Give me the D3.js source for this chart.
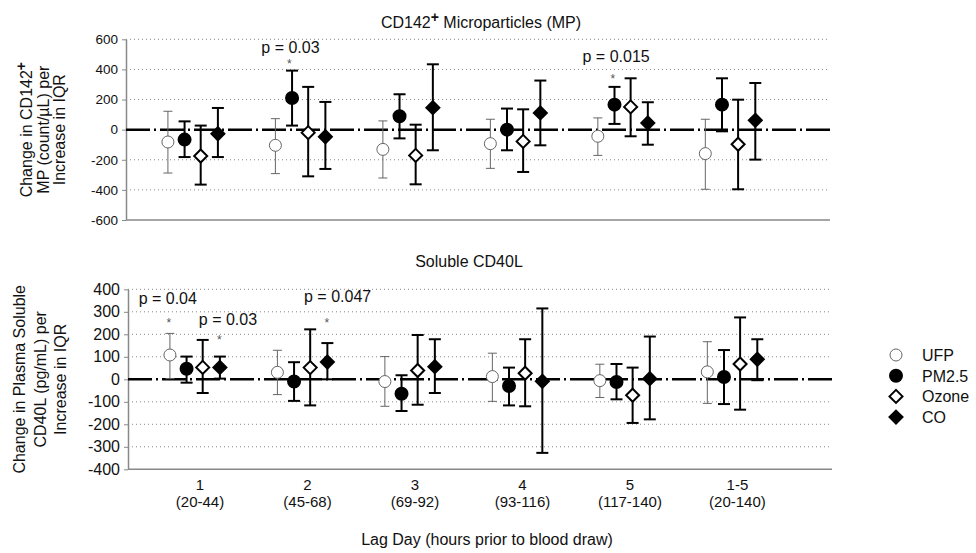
<!DOCTYPE html>
<html>
<head>
<meta charset="utf-8">
<script src="https://cdn.jsdelivr.net/npm/d3@7"></script>
<style>
  body { margin: 0; background: #fff; }
  text { font-family: "Liberation Sans", Arial, sans-serif; }
</style>
</head>
<body>
<script>
// categories
const lagDays = ['1', '2', '3', '4', '5', '1-5'];
const lagHours = ['(20-44)', '(45-68)', '(69-92)', '(93-116)', '(117-140)', '(20-140)'];
const pollutants = ['UFP', 'PM2.5', 'Ozone', 'CO'];

// CD142+ microparticles: [estimate, lower 95% CI, upper 95% CI] per lag
const mpUFP   = [[-82, -288, 122], [-104, -292, 73], [-131, -321, 58], [-93, -257, 69], [-44, -171, 78], [-159, -396, 69]];
const mpPM    = [[-66, -182, 55], [210, 27, 392], [89, -58, 235], [0, -137, 140], [166, 38, 284], [166, -11, 341]];
const mpOzone = [[-175, -365, 27], [-20, -310, 284], [-171, -363, 33], [-78, -281, 135], [151, -44, 341], [-97, -396, 199]];
const mpCO    = [[-27, -182, 144], [-47, -261, 184], [146, -137, 434], [111, -104, 326], [44, -100, 182], [62, -199, 310]];
const mpTicks = [-600, -400, -200, 0, 200, 400, 600];

// soluble CD40L
const cdUFP   = [[108, 3, 204], [31, -68, 129], [-10, -120, 101], [12, -98, 116], [-6, -81, 67], [33, -107, 167]];
const cdPM    = [[47, -15, 101], [-10, -96, 76], [-64, -141, 18], [-30, -116, 52], [-12, -89, 68], [10, -110, 130]];
const cdOzone = [[53, -61, 175], [52, -116, 222], [39, -113, 197], [27, -120, 178], [-71, -194, 52], [68, -135, 275]];
const cdCO    = [[53, 3, 101], [77, 0, 161], [56, -61, 178], [-9, -327, 315], [3, -178, 190], [89, -4, 178]];
const cdTicks = [-400, -300, -200, -100, 0, 100, 200, 300, 400];

// significance notes: lag number, shift in lag units, value where the text sits
const mpNotes = [
  { text: 'p = 0.03', lag: 2, shift: -0.14, value: 509 },
  { text: '*', lag: 2, shift: -0.15, value: 409 },
  { text: 'p = 0.015', lag: 5, shift: -0.11, value: 450 },
  { text: '*', lag: 5, shift: -0.14, value: 310 }
];
const cdNotes = [
  { text: 'p = 0.04', lag: 1, shift: -0.30, value: 335 },
  { text: '*', lag: 1, shift: -0.29, value: 232 },
  { text: 'p = 0.03', lag: 1, shift: 0.26, value: 241 },
  { text: '*', lag: 1, shift: 0.18, value: 157 },
  { text: 'p = 0.047', lag: 2, shift: 0.28, value: 344 },
  { text: '*', lag: 2, shift: 0.18, value: 232 }
];

const W = 976, H = 553;
const dodge = [-0.28, -0.125, 0.025, 0.185];
const styles = [
  { shape: 'circle', fill: '#fff', stroke: '#666', sw: 1, cap: 4.5 },
  { shape: 'circle', fill: '#000', stroke: '#000', sw: 2, cap: 6 },
  { shape: 'diamond', fill: '#fff', stroke: '#000', sw: 2, cap: 6 },
  { shape: 'diamond', fill: '#000', stroke: '#000', sw: 2, cap: 6 }
];
const diamond = r => `M0,${-r}L${r},0L0,${r}L${-r},0Z`;

const svg = d3.select('body').append('svg')
  .attr('width', W).attr('height', H)
  .style('display', 'block');

function drawPanel (p) {
  const g = svg.append('g');
  const x = d3.scaleLinear().domain([0.33, 6.88]).range([p.left, p.right]);
  const y = d3.scaleLinear().domain(d3.extent(p.ticks)).range([p.bottom, p.top]);

  // dotted grid
  g.selectAll('line.grid')
    .data(p.ticks.filter(t => t !== 0 && t !== p.ticks[0]))
    .join('line')
    .attr('x1', p.left).attr('x2', p.right)
    .attr('y1', d => y(d)).attr('y2', d => y(d))
    .attr('stroke', '#888').attr('stroke-dasharray', '1,3');

  g.append('line')
    .attr('x1', p.left).attr('x2', p.right)
    .attr('y1', p.bottom).attr('y2', p.bottom)
    .attr('stroke', '#888').attr('stroke-width', 1.5);

  g.append('g')
    .attr('transform', `translate(${p.left},0)`)
    .call(d3.axisLeft(y).tickValues(p.ticks).tickSize(4).tickSizeOuter(0).tickPadding(4).tickFormat(d => String(d)))
    .call(a => {
      a.select('.domain').attr('stroke', '#888').attr('stroke-width', 1.5);
      a.selectAll('.tick line').attr('stroke', '#888');
      a.selectAll('.tick text').style('fill', '#111')
        .style('font-size', p.tickFont + 'px')
        .style('font-family', '"Liberation Sans", Arial, sans-serif');
    });

  // zero reference line
  g.append('line')
    .attr('x1', p.left).attr('x2', p.right)
    .attr('y1', y(0)).attr('y2', y(0))
    .attr('stroke', '#000').attr('stroke-width', 2.5)
    .attr('stroke-dasharray', '24,4,2,4');

  p.series.forEach((rows, si) => {
    const s = styles[si];
    const sg = g.append('g');
    const cx = (d, i) => x(i + 1 + dodge[si]);
    sg.selectAll('line.bar').data(rows).join('line')
      .attr('x1', cx).attr('x2', cx)
      .attr('y1', d => y(d[1])).attr('y2', d => y(d[2]))
      .attr('stroke', s.stroke).attr('stroke-width', s.sw);
    [1, 2].forEach(k => {
      sg.selectAll('line.cap' + k).data(rows).join('line')
        .attr('x1', (d, i) => cx(d, i) - s.cap).attr('x2', (d, i) => cx(d, i) + s.cap)
        .attr('y1', d => y(d[k])).attr('y2', d => y(d[k]))
        .attr('stroke', s.stroke).attr('stroke-width', s.sw);
    });
    if (s.shape === 'circle') {
      sg.selectAll('circle').data(rows).join('circle')
        .attr('cx', cx).attr('cy', d => y(d[0])).attr('r', 6)
        .attr('fill', s.fill).attr('stroke', s.stroke).attr('stroke-width', s.sw);
    } else {
      sg.selectAll('path').data(rows).join('path')
        .attr('transform', (d, i) => `translate(${cx(d, i)},${y(d[0])})`)
        .attr('d', diamond(6.5))
        .attr('fill', s.fill).attr('stroke', s.stroke).attr('stroke-width', s.sw);
    }
  });

  g.selectAll('text.note').data(p.notes).join('text')
    .attr('x', d => x(d.lag + d.shift))
    .attr('y', d => y(d.value))
    .attr('text-anchor', 'middle')
    .style('font-size', d => d.text === '*' ? '12px' : '16px')
    .style('fill', d => d.text === '*' ? '#555' : '#111')
    .text(d => d.text);

  // panel title
  const t = g.append('text')
    .attr('x', p.titleX).attr('y', p.titleY)
    .attr('text-anchor', 'middle')
    .style('font-size', '16px').style('fill', '#111');
  p.title.forEach(part => {
    const ts = t.append('tspan').text(part.text);
    if (part.sup) ts.attr('dy', -6).style('font-size', '14px').style('font-weight', 'bold');
    else if (part.after) ts.attr('dy', 6);
  });

  // y-axis title
  p.yTitle.forEach((line, li) => {
    const yt = g.append('text')
      .attr('transform', `translate(${p.yTitleX[li]},${(p.top + p.bottom) / 2}) rotate(-90)`)
      .attr('text-anchor', 'middle')
      .style('font-size', '16px').style('fill', '#111');
    line.forEach(part => {
      const ts = yt.append('tspan').text(part.text);
      if (part.sup) ts.attr('dy', -6).style('font-size', '14px').style('font-weight', 'bold');
    });
  });

  return x;
}

drawPanel({
  top: 39.3, bottom: 220, left: 126, right: 830,
  ticks: mpTicks, tickFont: 13.5,
  series: [mpUFP, mpPM, mpOzone, mpCO],
  notes: mpNotes,
  titleX: 481, titleY: 28,
  title: [{ text: 'CD142' }, { text: '+', sup: true }, { text: ' Microparticles (MP)', after: true }],
  yTitleX: [32, 49, 65],
  yTitle: [
    [{ text: 'Change in CD142' }, { text: '+', sup: true }],
    [{ text: 'MP (count/µL) per' }],
    [{ text: 'Increase in IQR' }]
  ]
});

const xb = drawPanel({
  top: 289.3, bottom: 469.3, left: 128, right: 832,
  ticks: cdTicks, tickFont: 16,
  series: [cdUFP, cdPM, cdOzone, cdCO],
  notes: cdNotes,
  titleX: 469, titleY: 267,
  title: [{ text: 'Soluble CD40L' }],
  yTitleX: [25, 46, 66],
  yTitle: [
    [{ text: 'Change in Plasma Soluble' }],
    [{ text: 'CD40L (pg/mL) per' }],
    [{ text: 'Increase in IQR' }]
  ]
});

// category labels under the lower panel
const xl = svg.append('g');
xl.selectAll('text.lag').data(lagDays).join('text')
  .attr('x', (d, i) => xb(i + 1)).attr('y', 490)
  .attr('text-anchor', 'middle').style('font-size', '15px').style('fill', '#111')
  .text(d => d);
xl.selectAll('text.hours').data(lagHours).join('text')
  .attr('x', (d, i) => xb(i + 1)).attr('y', 507)
  .attr('text-anchor', 'middle').style('font-size', '15px').style('fill', '#111')
  .text(d => d);
svg.append('text')
  .attr('x', 487).attr('y', 545)
  .attr('text-anchor', 'middle').style('font-size', '16px').style('fill', '#111')
  .text('Lag Day (hours prior to blood draw)');

// legend
const legend = svg.append('g').selectAll('g').data(pollutants).join('g')
  .attr('transform', (d, i) => `translate(896,${355 + i * 20.7})`);
legend.each(function (d, i) {
  const s = styles[i];
  const lg = d3.select(this);
  if (s.shape === 'circle') {
    lg.append('circle').attr('r', 6).attr('fill', s.fill).attr('stroke', s.stroke).attr('stroke-width', s.sw);
  } else {
    lg.append('path').attr('d', diamond(6.5)).attr('fill', s.fill).attr('stroke', s.stroke).attr('stroke-width', s.sw);
  }
  lg.append('text').attr('x', 26).attr('y', 6).style('font-size', '16px').style('fill', '#111').text(d);
});
</script>
</body>
</html>
